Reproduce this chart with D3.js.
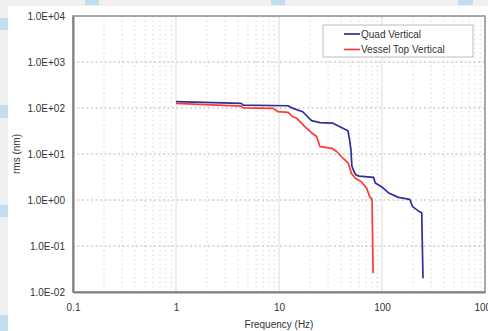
<!DOCTYPE html>
<html>
<head>
<meta charset="utf-8">
<script src="https://cdn.jsdelivr.net/npm/d3@7"></script>
<style>
  html, body { margin: 0; padding: 0; background: #efefef; }
  svg { display: block; }
</style>
</head>
<body>
<svg id="chart" width="488" height="331"></svg>
<script>
// Frequency (Hz) and rms displacement (nm) for each sensor
const quadFreq = [1, 4.3, 4.5, 12.2, 13.7, 17, 20.7, 25, 33, 39, 46.7, 48.5, 50, 51, 53.5, 56, 60, 83, 86, 99, 115, 144, 186, 198, 225, 243, 250];
const quadRms  = [137, 126, 116, 112, 98, 83, 53, 48, 47, 39, 32, 20, 12, 5.5, 4.1, 3.5, 3.3, 3.1, 2.34, 1.95, 1.44, 1.14, 1.03, 0.72, 0.58, 0.53, 0.020];
const vesselFreq = [1, 4.3, 4.5, 8.8, 9.8, 12.3, 13.3, 14.8, 17.9, 20.7, 23.2, 25, 32.6, 36.5, 42, 47, 50.5, 55, 63, 71, 76, 80, 82];
const vesselRms  = [126, 110, 101, 98, 83, 80, 67, 60, 39, 29, 24, 14.4, 13.3, 11.2, 8.0, 6.3, 3.8, 2.96, 2.5, 1.8, 1.18, 1.03, 0.026];

const seriesNames = ["Quad Vertical", "Vessel Top Vertical"];
const seriesColors = ["#2e2e9e", "#ff3838"];

const xTicks = [0.1, 1, 10, 100, 1000];
const xTickLabels = ["0.1", "1", "10", "100", "1000"];
const yTicks = [1e-2, 1e-1, 1e0, 1e1, 1e2, 1e3, 1e4];
const yTickLabels = ["1.0E-02", "1.0E-01", "1.0E+00", "1.0E+01", "1.0E+02", "1.0E+03", "1.0E+04"];

const svg = d3.select("#chart");
const W = 488, H = 331;

// Page backdrop: light grey with small pale-blue tiles, white panel
svg.append("rect").attr("width", W).attr("height", H).attr("fill", "#efefef");
const tiles = [
  [85, 0, 14, 5], [271, 0, 14, 5], [458, 0, 15, 5],
  [0, 18, 8, 12], [0, 105, 8, 13], [0, 205, 8, 12], [0, 315, 8, 16]
];
svg.selectAll("rect.tile").data(tiles).enter().append("rect")
  .attr("class", "tile")
  .attr("x", d => d[0]).attr("y", d => d[1])
  .attr("width", d => d[2]).attr("height", d => d[3])
  .attr("fill", "#c2dcf0");
svg.append("rect").attr("x", 8).attr("y", 6).attr("width", W - 8).attr("height", H - 6).attr("fill", "#ffffff");

const plot = { left: 73, right: 485, top: 16, bottom: 292 };

const x = d3.scaleLog().domain([0.1, 1000]).range([plot.left, plot.right]);
const y = d3.scaleLog().domain([1e-2, 1e4]).range([plot.bottom, plot.top]);

const grid = svg.append("g");

// Minor vertical gridlines (dotted)
const minorX = [];
for (let e = -1; e < 3; e++) {
  for (let m = 2; m <= 9; m++) minorX.push(m * Math.pow(10, e));
}
grid.selectAll("line.minx").data(minorX).enter().append("line")
  .attr("x1", d => x(d)).attr("x2", d => x(d))
  .attr("y1", plot.top).attr("y2", plot.bottom)
  .attr("stroke", "#d6d6d6").attr("stroke-width", 1)
  .attr("stroke-dasharray", "1.5,3");

// Major vertical gridlines
grid.selectAll("line.majx").data([1, 10, 100]).enter().append("line")
  .attr("x1", d => x(d)).attr("x2", d => x(d))
  .attr("y1", plot.top).attr("y2", plot.bottom)
  .attr("stroke", "#dcdcdc").attr("stroke-width", 1);

// Horizontal decade gridlines (dotted)
grid.selectAll("line.majy").data([1e-1, 1e0, 1e1, 1e2, 1e3]).enter().append("line")
  .attr("x1", plot.left).attr("x2", plot.right)
  .attr("y1", d => y(d)).attr("y2", d => y(d))
  .attr("stroke", "#b8b8b8").attr("stroke-width", 1)
  .attr("stroke-dasharray", "2,2.5");

// Plot frame
svg.append("rect")
  .attr("x", plot.left).attr("y", plot.top)
  .attr("width", plot.right - plot.left).attr("height", plot.bottom - plot.top)
  .attr("fill", "none").attr("stroke", "#8c8c8c").attr("stroke-width", 1.5);

// Axes
const font = "'Liberation Sans', Arial, sans-serif";
const fs = 10;
const xAxis = d3.axisBottom(x).tickValues(xTicks).tickFormat((d, i) => xTickLabels[i]).tickSize(0).tickPadding(12);
const gx = svg.append("g").attr("transform", `translate(0,${plot.bottom})`).call(xAxis);
gx.select(".domain").attr("stroke", "#808080").attr("stroke-width", 2);
gx.selectAll("text").attr("font-family", font).attr("font-size", fs).attr("fill", "#333");

const yAxis = d3.axisLeft(y).tickValues(yTicks).tickFormat((d, i) => yTickLabels[i]).tickSize(0).tickPadding(8);
const gy = svg.append("g").attr("transform", `translate(${plot.left},0)`).call(yAxis);
gy.select(".domain").attr("stroke", "#808080").attr("stroke-width", 2);
gy.selectAll("text").attr("font-family", font).attr("font-size", fs).attr("fill", "#333");

// Axis titles
svg.append("text").attr("x", x(10)).attr("y", 328)
  .attr("text-anchor", "middle").attr("font-family", font).attr("font-size", fs).attr("fill", "#333")
  .text("Frequency (Hz)");
svg.append("text").attr("transform", `translate(20,${(plot.top + plot.bottom) / 2}) rotate(-90)`)
  .attr("text-anchor", "middle").attr("font-family", font).attr("font-size", fs).attr("fill", "#333")
  .text("rms (nm)");

// Data lines
const line = d3.line().x(d => x(d[0])).y(d => y(d[1]));
const series = [
  d3.zip(quadFreq, quadRms),
  d3.zip(vesselFreq, vesselRms)
];
svg.selectAll("path.series").data(series).enter().append("path")
  .attr("class", "series")
  .attr("d", line)
  .attr("fill", "none")
  .attr("stroke", (d, i) => seriesColors[i])
  .attr("stroke-width", 1.7)
  .attr("stroke-linejoin", "round");

// Legend
const lg = svg.append("g").attr("transform", "translate(323,25)");
lg.append("rect").attr("width", 150).attr("height", 32)
  .attr("fill", "#ffffff").attr("stroke", "#bdbdbd").attr("stroke-width", 1);
seriesNames.forEach((name, i) => {
  const yy = 9 + i * 15.5;
  lg.append("line").attr("x1", 21).attr("x2", 37).attr("y1", yy).attr("y2", yy)
    .attr("stroke", seriesColors[i]).attr("stroke-width", 1.7);
  lg.append("text").attr("x", 38).attr("y", yy + 3.5)
    .attr("font-family", font).attr("font-size", fs).attr("fill", "#333")
    .text(name);
});
</script>
</body>
</html>
